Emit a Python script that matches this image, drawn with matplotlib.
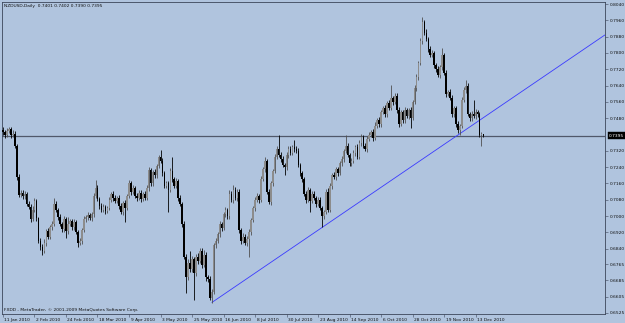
import matplotlib
matplotlib.use("Agg")
import matplotlib.pyplot as plt
import matplotlib.transforms as mtransforms
import numpy as np
import pandas as pd

# ---------------- data (prices in pips, x 1e-4) ----------------
symbol = "NZDUSD,Daily"
first_open = 7420
close_pips = [
    7410, 7398, 7418, 7425, 7400, 7405, 7345, 7190, 7104, 7115,
    7098, 7110, 7060, 7045, 6985, 7030, 7075, 6990, 6880, 6850,
    6830, 6870, 6925, 6900, 6945, 6960, 7060, 7030, 6995, 6960,
    6935, 6985, 6925, 6960, 6975, 6945, 6970, 6920, 6870, 6880,
    6930, 6985, 6995, 7005, 6990, 7010, 7100, 7140, 7085, 7050,
    7030, 7045, 7025, 7040, 7080, 7110, 7090, 7075, 7090, 7050,
    7020, 7065, 7040, 7100, 7160, 7120, 7140, 7100, 7090, 7115,
    7085, 7110, 7090, 7140, 7225, 7160, 7215, 7200, 7245, 7290,
    7270, 7210, 7150, 7160, 7130, 7220, 7180, 7150, 7170, 7090,
    7060, 6960, 6800, 6700, 6770, 6740, 6790, 6720, 6800, 6780,
    6830, 6760, 6810, 6700, 6690, 6600, 6630, 6860, 6880, 6910,
    6960, 6940, 7010, 7030, 7000, 7110, 7080, 7130, 7090, 7120,
    6930, 6880, 6900, 6870, 6890, 6920, 6980, 7040, 7080, 7100,
    7080, 7180, 7230, 7270, 7120, 7070, 7160, 7220, 7290, 7330,
    7300, 7280, 7250, 7240, 7300, 7330, 7310, 7340, 7330, 7320,
    7250, 7210, 7180, 7110, 7080, 7130, 7075, 7110, 7090, 7060,
    7080, 7040, 7000, 7020, 7120, 7030, 7150, 7200, 7190, 7230,
    7210, 7260, 7280, 7320, 7345, 7300, 7260, 7270, 7310, 7340,
    7290, 7360, 7390, 7345, 7330, 7380, 7400, 7410, 7385, 7440,
    7470, 7450, 7510, 7530, 7500, 7555, 7530, 7580, 7560, 7590,
    7520, 7450, 7510, 7470, 7520, 7490, 7520, 7480, 7560, 7630,
    7680, 7750, 7860, 7950, 7900, 7870, 7820, 7790, 7800, 7740,
    7720, 7690, 7730, 7790, 7700, 7600, 7610, 7580, 7500, 7530,
    7450, 7420, 7440, 7570, 7620, 7640, 7500, 7480, 7500, 7490,
    7510, 7500, 7400, 7401, 7395,
]
wick_up_pips = [
    15, 12, 14, 10, 12, 15, 10, 8, 15, 12,
    14, 12, 10, 15, 12, 18, 12, 10, 8, 12,
    15, 20, 12, 15, 10, 15, 30, 12, 10, 15,
    12, 18, 10, 35, 12, 10, 15, 12, 10, 15,
    12, 15, 10, 14, 12, 10, 15, 38, 12, 10,
    15, 12, 10, 12, 15, 10, 12, 15, 10, 12,
    15, 10, 12, 10, 18, 12, 15, 10, 12, 15,
    12, 10, 15, 12, 15, 10, 12, 15, 10, 12,
    35, 15, 12, 10, 12, 15, 70, 12, 15, 10,
    12, 10, 15, 12, 20, 60, 15, 12, 15, 20,
    15, 12, 25, 15, 12, 15, 12, 10, 15, 12,
    15, 12, 10, 15, 12, 20, 12, 25, 15, 12,
    15, 12, 15, 10, 12, 15, 10, 12, 15, 12,
    10, 15, 12, 20, 12, 15, 12, 10, 15, 12,
    68, 12, 15, 10, 12, 15, 12, 10, 34, 12,
    15, 12, 10, 12, 15, 12, 10, 15, 12, 10,
    12, 15, 10, 12, 15, 20, 12, 10, 15, 12,
    10, 12, 15, 10, 53, 12, 10, 15, 12, 10,
    15, 12, 15, 10, 12, 15, 12, 10, 15, 22,
    12, 15, 10, 12, 15, 10, 12, 63, 10, 15,
    12, 15, 10, 12, 15, 10, 12, 15, 10, 12,
    15, 12, 15, 26, 12, 15, 10, 12, 15, 10,
    12, 15, 10, 35, 12, 15, 10, 12, 15, 10,
    12, 15, 10, 12, 15, 28, 12, 10, 15, 70,
    15, 12, 10, 12, 1,
]
wick_dn_pips = [
    12, 15, 10, 12, 15, 10, 12, 15, 12, 10,
    12, 15, 10, 12, 15, 10, 12, 15, 12, 15,
    20, 12, 15, 10, 12, 15, 10, 12, 15, 10,
    15, 12, 32, 12, 10, 15, 12, 10, 21, 12,
    15, 10, 12, 15, 10, 12, 15, 10, 12, 15,
    12, 10, 15, 12, 10, 12, 15, 10, 12, 15,
    12, 15, 70, 12, 10, 15, 12, 10, 15, 12,
    15, 12, 10, 12, 15, 12, 10, 15, 12, 10,
    12, 15, 10, 12, 110, 12, 15, 10, 12, 15,
    12, 15, 10, 75, 15, 12, 15, 130, 12, 15,
    12, 15, 10, 20, 15, 12, 25, 12, 15, 10,
    12, 15, 10, 12, 15, 12, 10, 15, 12, 15,
    12, 15, 10, 12, 15, 90, 12, 10, 15, 12,
    15, 12, 10, 15, 12, 10, 15, 12, 10, 12,
    12, 15, 10, 40, 12, 15, 10, 12, 15, 12,
    10, 15, 12, 10, 15, 12, 55, 10, 12, 15,
    12, 10, 53, 15, 12, 10, 12, 15, 10, 12,
    15, 10, 12, 15, 12, 10, 15, 12, 10, 15,
    12, 10, 15, 12, 10, 15, 12, 10, 15, 12,
    10, 15, 12, 10, 15, 12, 10, 12, 15, 10,
    12, 15, 10, 12, 15, 10, 12, 48, 10, 12,
    15, 12, 10, 15, 12, 10, 15, 12, 10, 15,
    12, 10, 15, 12, 10, 15, 12, 10, 15, 12,
    15, 12, 22, 10, 12, 15, 10, 12, 15, 10,
    12, 15, 10, 55, 5,
]
first_date = "2010-01-11"
label_every = 16
y_tick_values = [0.8040, 0.7960, 0.7880, 0.7800, 0.7720, 0.7640, 0.7560, 0.7480,
                 0.7320, 0.7240, 0.7160, 0.7080, 0.7000, 0.6920, 0.6840, 0.6765,
                 0.6685, 0.6605, 0.6525]
current_price = 0.7395
last_ohlc_text = "0.7401 0.7402 0.7390 0.7395"
trend_bars = [106, 232]
trend_prices = [0.6576, 0.7404]
footer = "FXDD - MetaTrader, \u00a9 2001-2009 MetaQuotes Software Corp."

# ---------------- derived ----------------
n = len(close_pips)
assert len(wick_up_pips) == n and len(wick_dn_pips) == n
close = np.array(close_pips) / 1e4
opn = np.concatenate([[first_open], close_pips[:-1]]) / 1e4
high = np.maximum(opn, close) + np.array(wick_up_pips) / 1e4
low = np.minimum(opn, close) - np.array(wick_dn_pips) / 1e4
dates = pd.bdate_range(first_date, periods=n)
idx = np.arange(n)

BG = "#B0C4DE"
FRAME = "#3c465a"
FS = 3.2

fig = plt.figure(figsize=(6.25, 3.23), dpi=100, facecolor=BG)
W, H = 625, 323
ax_l, ax_r, ax_t, ax_b = 2, 605, 2, 314
ax = fig.add_axes([ax_l / W, (H - ax_b) / H, (ax_r - ax_l) / W, (ax_b - ax_t) / H])
ax.set_facecolor(BG)

px_per_bar = 1.969
ax.set_xlim(-0.5, -0.5 + (ax_r - ax_l) / px_per_bar)
price_per_px = (0.8040 - 0.6525) / 309.0
ax.set_ylim(0.8040 - (ax_b - 4) * price_per_px, 0.8040 + (4 - ax_t) * price_per_px)

# horizontal current price line
ax.axhline(current_price, color="#50586a", lw=0.9, zorder=1)

# trendline ray
slope = (trend_prices[1] - trend_prices[0]) / (trend_bars[1] - trend_bars[0])
x_end = ax.get_xlim()[1]
ax.plot([trend_bars[0], x_end], [trend_prices[0], trend_prices[0] + slope * (x_end - trend_bars[0])],
        color="#3a3aff", lw=0.6, zorder=2, solid_capstyle="butt")

# candles
up = close >= opn
body_col = np.where(up, "#8c8c8c", "#000000")
wick_col = np.where(up, "#505050", "#000000")
ax.vlines(idx, low, high, colors=wick_col, lw=0.6, zorder=3)
body_h = np.maximum(np.abs(close - opn), 0.00012)
ax.bar(idx, body_h, bottom=np.minimum(opn, close), width=0.8, color=body_col,
       edgecolor="none", zorder=4)

# frame
for s in ax.spines.values():
    s.set_color(FRAME)
    s.set_linewidth(0.6)

# right y axis
ax.yaxis.tick_right()
ax.set_yticks(y_tick_values)
ax.set_yticklabels([f"{v:.4f}" for v in y_tick_values])
ax.tick_params(axis="y", which="both", length=2.0, width=0.4, color=FRAME,
               labelsize=FS, pad=1.2, labelcolor="#111111")

# bottom date axis
tick_pos = idx[::label_every]
ax.set_xticks(tick_pos)
ax.set_xticklabels([f"{d.day} {d.strftime('%b %Y')}" for d in dates[::label_every]],
                   ha="left")
ax.tick_params(axis="x", which="both", length=2.0, width=0.4, color=FRAME,
               labelsize=FS, pad=0.6, labelcolor="#111111")
offset = mtransforms.ScaledTranslation(1.5 / 100, 0, fig.dpi_scale_trans)
for lab in ax.get_xticklabels():
    lab.set_transform(lab.get_transform() + offset)

# current price box on the scale
ax.annotate(f"{current_price:.4f}", xy=(1.0, current_price), xycoords=("axes fraction", "data"),
            xytext=(2.8, 0), textcoords="offset points", va="center", ha="left",
            fontsize=FS, color="white",
            bbox=dict(boxstyle="square,pad=0.25", fc="black", ec="black", lw=0.3),
            annotation_clip=False)

# header and footer text
fig.text(4 / W, 1 - 5.5 / H, f"{symbol}  {last_ohlc_text}", fontsize=FS, va="center",
         ha="left", color="#111111")
fig.text(4 / W, 1 - 309.5 / H, footer, fontsize=FS, va="center", ha="left", color="#111111")

fig.savefig("out.png", dpi=100, facecolor=BG)
